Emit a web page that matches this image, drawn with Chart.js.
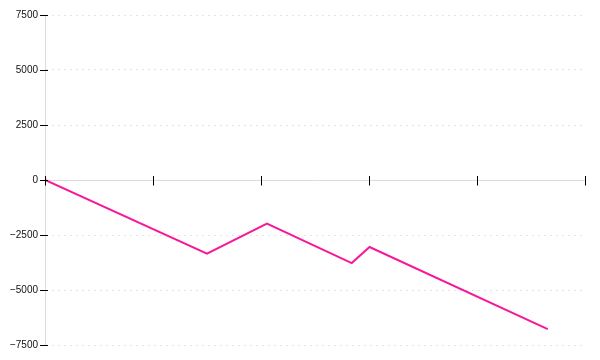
<!DOCTYPE html>
<html>
<head>
<meta charset="utf-8">
<script src="https://cdn.jsdelivr.net/npm/chart.js@4/dist/chart.umd.min.js"></script>
<style>
html,body{margin:0;padding:0;background:#fff;}
#wrap{width:600px;height:360px;}
</style>
</head>
<body>
<div id="wrap"><canvas id="c" width="600" height="360"></canvas></div>
<script>
// Data
const xValues = [0, 30, 41.1, 56.8, 60.1, 93.1];
const yValues = [0, -3350, -1980, -3775, -3045, -6775];
const yTicks = [-7500, -5000, -2500, 0, 2500, 5000, 7500];
const xTicks = [0, 20, 40, 60, 80, 100];

const points = xValues.map((x, i) => ({x: x, y: yValues[i]}));

const extraTicks = {
  id: 'extraTicks',
  afterDraw(chart) {
    const ctx = chart.ctx;
    const xs = chart.scales.x, ys = chart.scales.y;
    const y0 = Math.round(ys.getPixelForValue(0)) + 0.5;
    ctx.save();
    ctx.strokeStyle = '#000';
    ctx.lineWidth = 1;
    ctx.beginPath();
    xTicks.forEach(v => {
      const px = Math.round(xs.getPixelForValue(v)) + 0.5;
      ctx.moveTo(px, y0 - 4.5);
      ctx.lineTo(px, y0 + 5);
    });
    const left = chart.chartArea.left;
    yTicks.forEach(v => {
      const py = Math.round(ys.getPixelForValue(v)) + 0.5;
      ctx.moveTo(left - 5, py);
      ctx.lineTo(left + 3, py);
    });
    ctx.stroke();
    ctx.restore();
  }
};

new Chart(document.getElementById('c'), {
  type: 'line',
  data: {
    datasets: [{
      data: points,
      borderColor: '#f7179a',
      borderWidth: 2,
      pointRadius: 0,
      tension: 0,
      fill: false
    }]
  },
  options: {
    responsive: false,
    animation: false,
    layout: {padding: {top: 15, right: 15, bottom: 15, left: 0}},
    plugins: {legend: {display: false}, tooltip: {enabled: false}},
    scales: {
      x: {
        type: 'linear',
        min: 0, max: 100,
        position: {y: 0},
        afterFit: s => { s.height = 0; },
        afterBuildTicks: s => { s.ticks = xTicks.map(v => ({value: v})); },
        ticks: {display: false},
        grid: {display: false},
        border: {display: true, color: '#dcdcdc', width: 1}
      },
      y: {
        min: -7500, max: 7500,
        afterFit: s => { s.width = 45; },
        afterBuildTicks: s => { s.ticks = yTicks.map(v => ({value: v})); },
        ticks: {
          padding: 7,
          color: '#111',
          font: {family: 'Liberation Sans', size: 10},
          callback: v => String(v).replace('-', '\u2212')
        },
        grid: {color: '#e4e4e4', drawTicks: false},
        border: {display: true, color: '#dcdcdc', width: 1, dash: [2, 4]}
      }
    }
  },
  plugins: [extraTicks]
});
</script>
</body>
</html>
